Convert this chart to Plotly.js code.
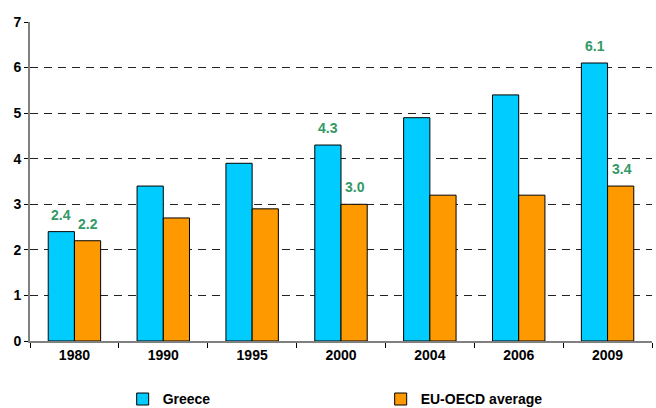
<!DOCTYPE html>
<html>
<head>
<meta charset="utf-8">
<script src="https://cdn.plot.ly/plotly-3.0.1.min.js"></script>
<style>
  html, body { margin: 0; padding: 0; background: #fff; }
  #chart { width: 656px; height: 408px; }
</style>
</head>
<body>
<div id="chart"></div>
<script>
// Years shown on the category axis
const years = ['1980', '1990', '1995', '2000', '2004', '2006', '2009'];
// Series values
const greece = [2.4, 3.4, 3.9, 4.3, 4.9, 5.4, 6.1];
const euOecd = [2.2, 2.7, 2.9, 3.0, 3.2, 3.2, 3.4];
// Years whose bars carry a value label
const labelledYears = ['1980', '2000', '2009'];

const labelFont = { family: 'Liberation Sans, Arial, sans-serif', size: 14, color: '#339966', weight: 'bold' };

// Value labels sit a little above each labelled bar, shifted onto its half of the group.
// x is the category index on the category axis.
function valueLabels(values, xshift) {
  const out = [];
  values.forEach((v, i) => {
    if (!labelledYears.includes(years[i])) return;
    out.push({
      x: i, y: v, xref: 'x', yref: 'y',
      text: v.toFixed(1), showarrow: false,
      xanchor: 'center', yanchor: 'bottom',
      xshift: xshift, yshift: 7,
      font: labelFont
    });
  });
  return out;
}

const traces = [
  {
    type: 'bar', name: 'Greece', x: years, y: greece,
    marker: { color: '#00CCFF', line: { color: '#000', width: 1 } },
    hoverinfo: 'none'
  },
  {
    type: 'bar', name: 'EU-OECD average', x: years, y: euOecd,
    marker: { color: '#FF9900', line: { color: '#000', width: 1 } },
    hoverinfo: 'none'
  }
];

const layout = {
  width: 656, height: 408,
  margin: { l: 30, r: 4, t: 22, b: 67, autoexpand: false },
  paper_bgcolor: '#fff', plot_bgcolor: '#fff',
  font: { family: 'Liberation Sans, Arial, sans-serif', size: 14, color: '#000', weight: 'bold' },
  barmode: 'group', bargap: 0.41, bargroupgap: 0,
  xaxis: {
    type: 'category', range: [-0.5, years.length - 0.5],
    showline: true, linecolor: '#808080', linewidth: 2,
    ticks: 'outside', tickson: 'boundaries', ticklen: 5, tickcolor: '#000', tickwidth: 1,
    tickfont: { size: 14, weight: 'bold' },
    showgrid: false, zeroline: false, automargin: false
  },
  yaxis: {
    range: [0, 7], dtick: 1,
    showline: true, linecolor: '#808080', linewidth: 2,
    ticks: 'outside', ticklen: 4, tickcolor: '#000', tickwidth: 1,
    tickfont: { size: 14, weight: 'bold' },
    showgrid: true, gridcolor: '#222', gridwidth: 1, griddash: '8px,6px',
    zeroline: false, automargin: false
  },
  annotations: valueLabels(greece, -13).concat(valueLabels(euOecd, 14)),
  showlegend: true,
  legend: {
    orientation: 'h',
    xref: 'container', yref: 'paper',
    x: 0.187, xanchor: 'left', y: -0.133, yanchor: 'top',
    entrywidth: 213, entrywidthmode: 'pixels',
    font: { size: 14, weight: 'bold' },
    traceorder: 'normal'
  }
};

Plotly.newPlot('chart', traces, layout, { displayModeBar: false, staticPlot: true });
</script>
</body>
</html>
